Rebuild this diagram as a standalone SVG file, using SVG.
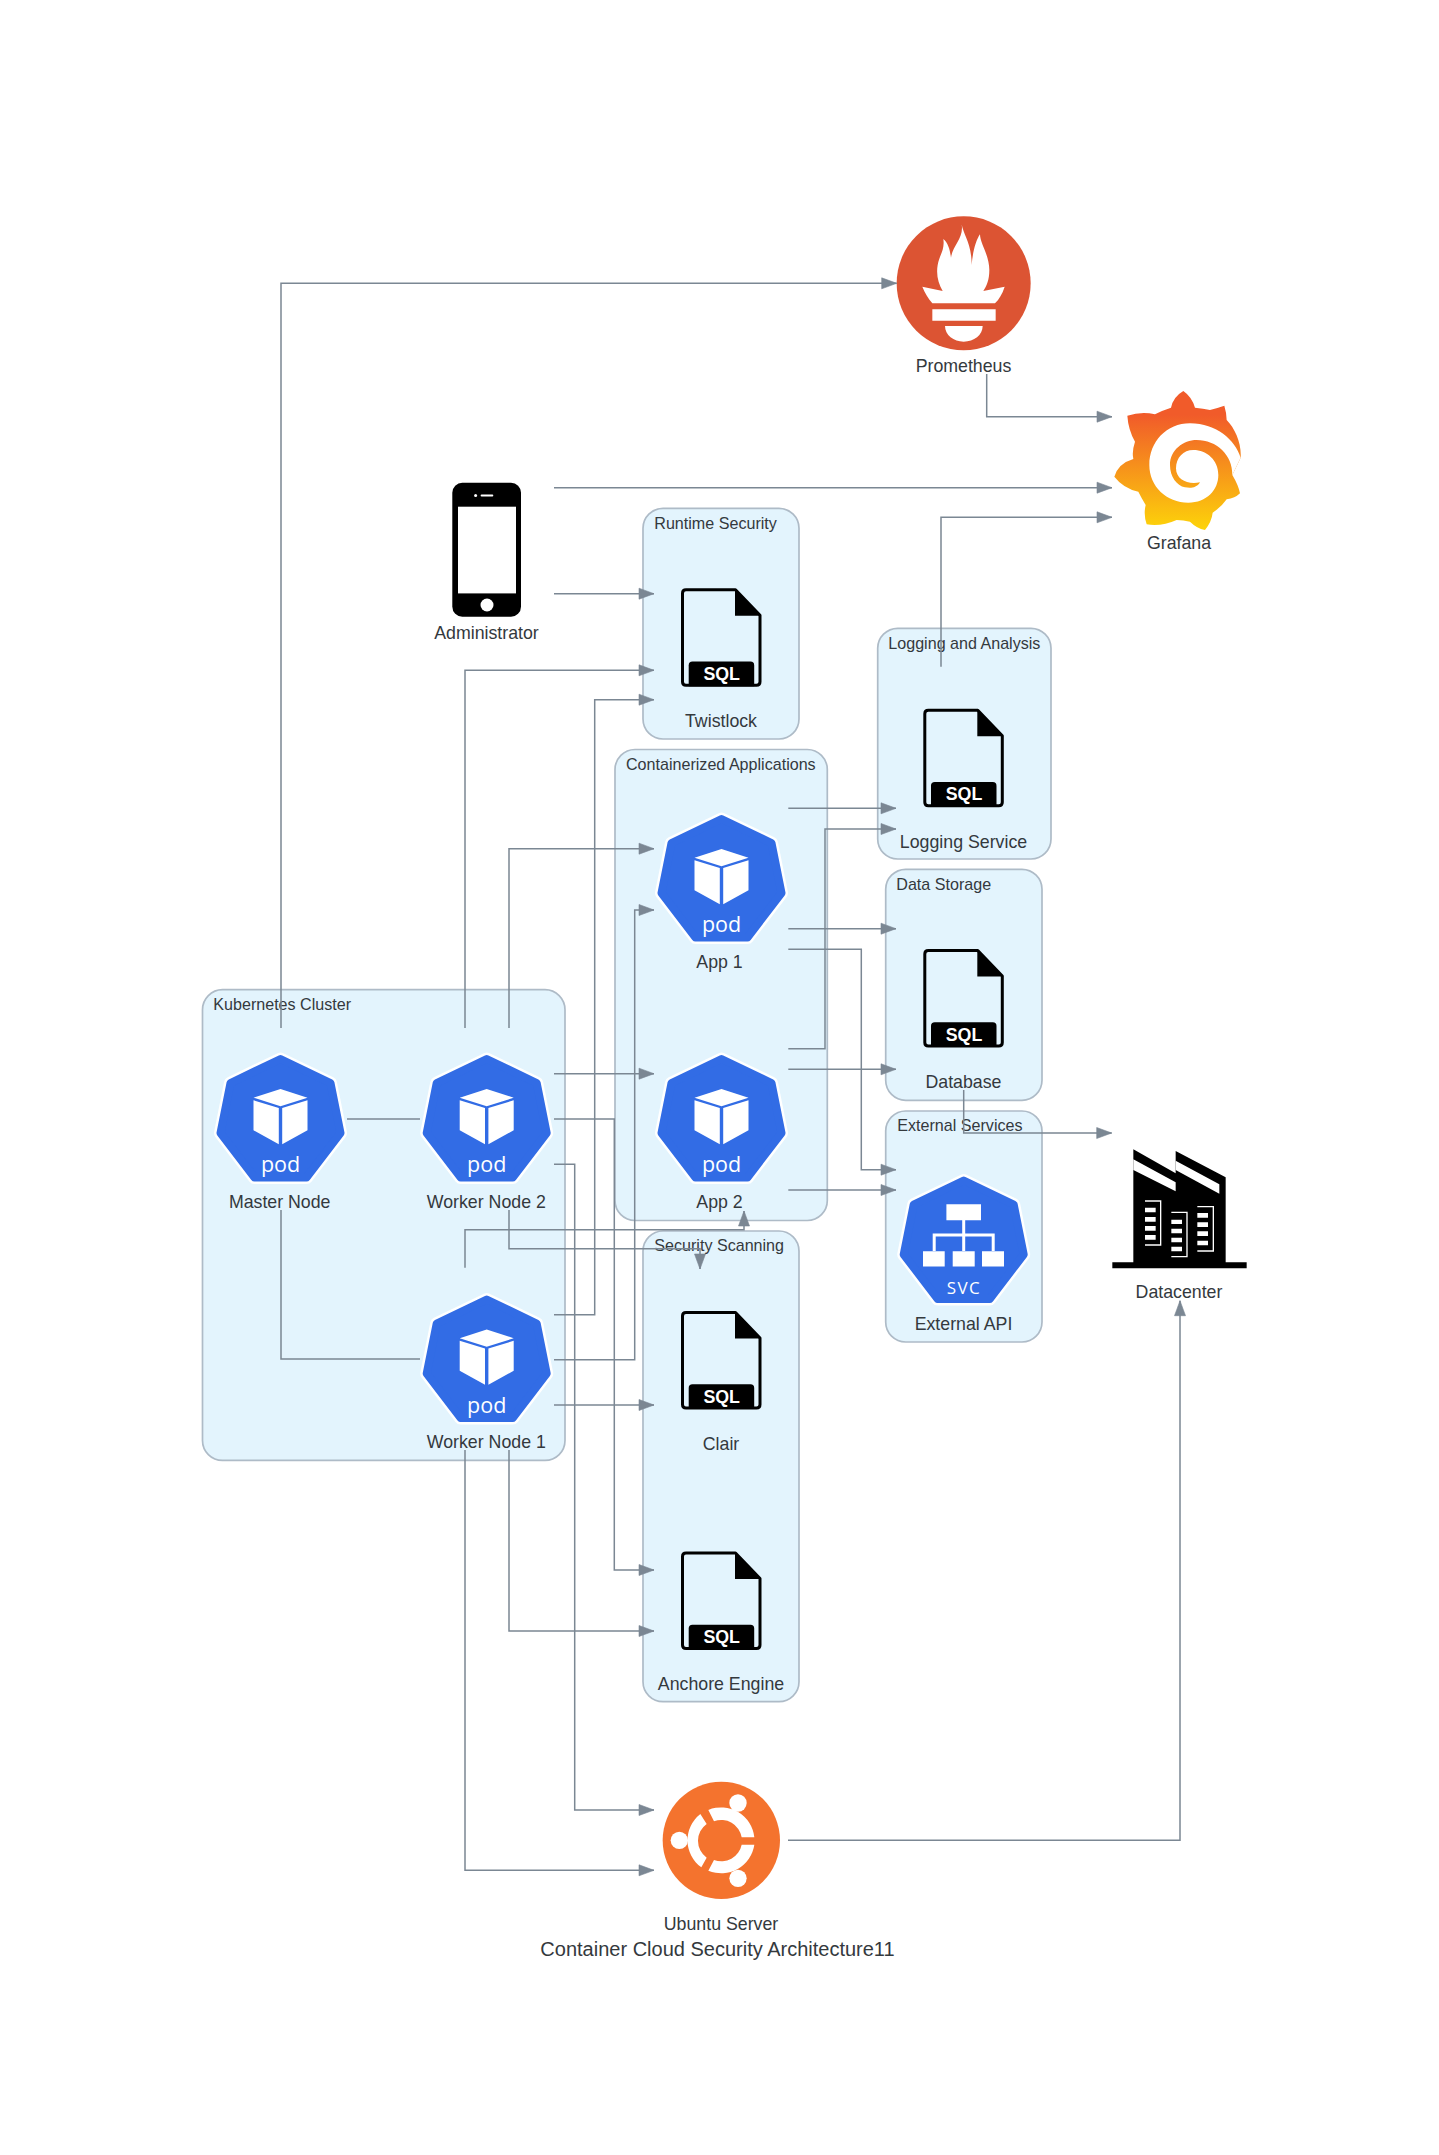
<svg xmlns="http://www.w3.org/2000/svg" width="1439" height="2155" viewBox="0 0 1439 2155">
<style>
text{font-family:"Liberation Sans",Arial,sans-serif;fill:#34393d}
.lb{font-size:17.75px;text-anchor:middle}
.cl{font-size:16.1px}
.title{font-size:20px;text-anchor:middle}
.panel{fill:#e3f4fd;stroke:#aebbc7;stroke-width:1.7}
.edge{fill:none;stroke:#7b8793;stroke-width:1.5}
.arr{marker-end:url(#ah)}
text.pt{font-family:"Open Sans",sans-serif;fill:#fff;font-size:21.5px;text-anchor:middle}
text.svc{font-family:"Open Sans",sans-serif;fill:#fff;font-size:17px;letter-spacing:1.5px;text-anchor:middle}
text.sq{font-weight:bold;fill:#fff;font-size:17.8px;text-anchor:middle}
</style>
<defs>
<marker id="ah" markerUnits="userSpaceOnUse" markerWidth="17" markerHeight="13" refX="16" refY="6.5" orient="auto"><path d="M1,1L16,6.5L1,12Z" fill="#7b8793" stroke="#7b8793" stroke-width=".6"/></marker>
<linearGradient id="gf" gradientUnits="userSpaceOnUse" x1="0" y1="90" x2="0" y2="430"><stop offset="0" stop-color="#f15b2a"/><stop offset="1" stop-color="#fdd20a"/></linearGradient>
<g id="hept">
<polygon points="0,7 50,31 60,81 26,125.5 -26,125.5 -60,81 -50,31" fill="#fff" stroke="#fff" stroke-width="13" stroke-linejoin="round"/>
<polygon points="0,7 50,31 60,81 26,125.5 -26,125.5 -60,81 -50,31" fill="#326ce5" stroke="#326ce5" stroke-width="8" stroke-linejoin="round"/>
</g>
<g id="pod">
<use href="#hept"/>
<path fill="#fff" d="M0,37L27,45.7L0,54.3L-27,45.7ZM-27,48.3L-1.7,56V92.3L-27,78.3ZM1.7,56L27,48.3V78.3L1.7,92.3Z"/>
</g>
<g id="sql">
<path fill="none" stroke="#000" stroke-width="3" stroke-linejoin="round" d="M5,1.5H54.5L79,27V93.5Q79,97 75.5,97H5Q1.5,97 1.5,93.5V5Q1.5,1.5 5,1.5Z"/>
<path d="M54,1L80,27.5H54Z" fill="#000"/>
<path d="M7.7,98V77Q7.7,73.3 11.5,73.3H69.5Q73.2,73.3 73.2,77V98Z" fill="#000"/>
</g>
</defs>

<g id="cluster-kubernetes"><rect class="panel" x="202.5" y="989.7" width="362.5" height="470.7" rx="20"/><text class="cl" x="213.3" y="1010">Kubernetes Cluster</text></g>
<g id="cluster-runtime"><rect class="panel" x="643" y="508.3" width="156" height="230.7" rx="20"/><text class="cl" x="654.3" y="529.3">Runtime Security</text></g>
<g id="cluster-apps"><rect class="panel" x="615" y="749.5" width="212.3" height="471" rx="20"/><text class="cl" x="626" y="770">Containerized Applications</text></g>
<g id="cluster-scanning"><rect class="panel" x="643" y="1231" width="156" height="470.7" rx="20"/><text class="cl" x="654.3" y="1251">Security Scanning</text></g>
<g id="cluster-logging"><rect class="panel" x="877.7" y="628.3" width="173.3" height="230.7" rx="20"/><text class="cl" x="888.3" y="649">Logging and Analysis</text></g>
<g id="cluster-storage"><rect class="panel" x="885.7" y="869.3" width="156.3" height="231" rx="20"/><text class="cl" x="896.3" y="890">Data Storage</text></g>
<g id="cluster-external"><rect class="panel" x="885.7" y="1111" width="156.3" height="231" rx="20"/><text class="cl" x="897.3" y="1130.7">External Services</text></g>

<g id="prometheus">
<g transform="translate(900 215) scale(.33333)">
<circle cx="191" cy="205" r="201" fill="#dc5433"/>
<path fill="#fff" d="M185,28C190,60 215,85 215,150C218,110 228,75 240,58C240,85 268,120 268,165C268,195 260,212 250,228L314,215C307,237 297,253 285,265H97C85,250 75,235 67,215L128,228C115,205 108,180 113,150C118,120 135,105 130,72C145,85 150,105 153,128C158,90 192,70 185,28ZM97,283H287V317H97ZM135,333H248C248,360 222,380 191,380C161,380 135,360 135,333Z"/>
</g>
<text class="lb" x="963.5" y="372">Prometheus</text>
</g>

<g id="grafana">
<g transform="translate(1110 385) scale(.33333)">
<path fill="url(#gf)" d="M220,18Q245,35 255,68Q280,70 300,75Q320,70 343,62Q350,85 350,105C375,130 395,175 392,218L367,270Q385,300 390,325Q375,340 350,343Q335,365 308,383Q305,410 285,435Q260,430 240,410Q220,405 200,405Q155,425 110,418Q100,390 107,360Q95,340 85,320Q40,310 13,275Q25,235 70,222Q65,200 75,170Q55,135 52,92Q95,78 135,88Q160,75 183,68Q190,35 220,18Z"/>
<path fill="#fff" d="M392,218C375,165 320,115 240,115C170,115 118,170 118,240C118,305 170,353 235,353C290,353 325,315 325,270C325,225 290,195 250,195C220,195 198,218 198,250C198,285 235,300 270,292C260,310 240,310 225,307C200,302 180,275 180,240C180,195 220,165 260,165C320,165 368,210 367,270Z"/>
</g>
<text class="lb" x="1179" y="549">Grafana</text>
</g>

<g id="administrator">
<rect x="452.3" y="482.7" width="68.7" height="134" rx="10" fill="#000"/>
<rect x="458" y="506.7" width="58" height="86.7" fill="#fff"/>
<circle cx="487" cy="605" r="6.5" fill="#fff"/>
<rect x="480.6" y="494.4" width="12.7" height="2" rx="1" fill="#fff"/>
<circle cx="475.6" cy="495.4" r="1.5" fill="#fff"/>
<text class="lb" x="486.5" y="639">Administrator</text>
</g>

<g id="twistlock"><use href="#sql" x="681" y="588.3"/><text class="sq" x="721.7" y="680">SQL</text><text class="lb" x="721" y="727">Twistlock</text></g>
<g id="clair"><use href="#sql" x="681" y="1311"/><text class="sq" x="721.7" y="1402.7">SQL</text><text class="lb" x="721" y="1450">Clair</text></g>
<g id="anchore"><use href="#sql" x="681" y="1551.5"/><text class="sq" x="721.7" y="1643.2">SQL</text><text class="lb" x="721" y="1690">Anchore Engine</text></g>
<g id="logging"><use href="#sql" x="923.3" y="708.7"/><text class="sq" x="964" y="800.4">SQL</text><text class="lb" x="963.5" y="847.7">Logging Service</text></g>
<g id="database"><use href="#sql" x="923.3" y="949"/><text class="sq" x="964" y="1040.7">SQL</text><text class="lb" x="963.5" y="1088">Database</text></g>

<g id="master"><use href="#pod" x="280.5" y="1052"/><text class="pt" x="280.5" y="1172">pod</text><text class="lb" x="279.7" y="1208">Master Node</text></g>
<g id="worker2"><use href="#pod" x="486.7" y="1052"/><text class="pt" x="486.7" y="1172">pod</text><text class="lb" x="486.3" y="1208">Worker Node 2</text></g>
<g id="worker1"><use href="#pod" x="486.7" y="1292.5"/><text class="pt" x="486.7" y="1412.5">pod</text><text class="lb" x="486.3" y="1448">Worker Node 1</text></g>
<g id="app1"><use href="#pod" x="721.5" y="812"/><text class="pt" x="721.5" y="932">pod</text><text class="lb" x="719.5" y="968">App 1</text></g>
<g id="app2"><use href="#pod" x="721.5" y="1052"/><text class="pt" x="721.5" y="1172">pod</text><text class="lb" x="719.5" y="1208">App 2</text></g>

<g id="external-api">
<use href="#hept" x="963.7" y="1173.5"/>
<path fill="#fff" d="M946.4,1204.2H981V1220.2H946.4ZM962.2,1220H965.2V1251H962.2ZM932.7,1233.5H994.7V1236.5H932.7ZM932.7,1235H935.7V1251H932.7ZM991.7,1235H994.7V1251H991.7ZM923,1251.2H944.7V1266.5H923ZM952.7,1251.2H974.7V1266.5H952.7ZM982,1251.2H1004V1266.5H982Z"/>
<text class="svc" x="964" y="1294">SVC</text>
<text class="lb" x="963.5" y="1330">External API</text>
</g>

<g id="datacenter">
<g transform="translate(860 1090) scale(.33333)">
<path fill="#000" d="M757,517H1160V535H757ZM820,178L947,250V183L1097,262V517H820Z"/>
<path fill="#fff" d="M820,208L947,277V304L820,240ZM947,212L1078,283V311L947,240Z"/>
<g fill="#fff">
<path d="M855,353h32v14h-32zM855,381h32v14h-32zM855,408h32v14h-32zM855,435h32v14h-32z"/>
<path d="M934,389h32v13h-32zM934,416h32v14h-32zM934,443h32v14h-32zM934,470h32v14h-32z"/>
<path d="M1012,369h32v14h-32zM1012,397h32v14h-32zM1012,424h32v14h-32zM1012,452h32v14h-32z"/>
</g>
<path fill="none" stroke="#fff" stroke-width="4" d="M855,333H902V465H855M934,367H981V500H934M1012,350H1060V483H1012"/>
</g>
<text class="lb" x="1179" y="1298">Datacenter</text>
</g>

<g id="ubuntu">
<g transform="translate(600 1760) scale(.33333)">
<circle cx="364" cy="241" r="176" fill="#f4732e"/>
<g fill="#fff">
<circle cx="414" cy="129" r="26"/><circle cx="238" cy="241" r="26"/><circle cx="414" cy="355" r="26"/>
<path d="M325,150A100,100 0 0 1 463,232H425A62,62 0 0 0 342,184Z"/>
<path d="M463,254A100,100 0 0 1 325,332L342,300A62,62 0 0 0 425,254Z"/>
<path d="M301,162L320,192A62,62 0 0 0 320,293L304,322A100,100 0 0 1 301,162Z"/>
</g>
</g>
<text class="lb" x="721" y="1930">Ubuntu Server</text>
</g>

<text id="title" class="title" x="717.5" y="1956">Container Cloud Security Architecture11</text>

<g id="connectors">
<path class="edge arr" d="M281,1028V283.3H896.7"/>
<path class="edge arr" d="M986.7,374V416.7H1112"/>
<path class="edge arr" d="M554,487.7H1112"/>
<path class="edge arr" d="M941,666.7V517.3H1112"/>
<path class="edge arr" d="M554,593.7H654"/>
<path class="edge arr" d="M465,1028V670.3H654"/>
<path class="edge arr" d="M554,1314.7H594.7V699.7H654"/>
<path class="edge arr" d="M509,1028V848.7H654"/>
<path class="edge" d="M347,1119H420"/>
<path class="edge" d="M281,1210V1359H420"/>
<path class="edge arr" d="M554,1073.7H654"/>
<path class="edge arr" d="M554,1119H614.3V1570H654"/>
<path class="edge arr" d="M554,1164.3H574.7V1810H654"/>
<path class="edge arr" d="M465,1450V1870.3H654"/>
<path class="edge arr" d="M509,1450V1631H654"/>
<path class="edge arr" d="M554,1405H654"/>
<path class="edge arr" d="M554,1359.7H634.7V910H654"/>
<path class="edge arr" d="M465,1267.7V1229.7H744V1211"/>
<path class="edge arr" d="M509,1210V1248.7H700V1269"/>
<path class="edge arr" d="M788.3,808.3H896"/>
<path class="edge arr" d="M788.3,928.7H896"/>
<path class="edge arr" d="M788.3,949.3H861.3V1169.7H896"/>
<path class="edge arr" d="M788.3,1048.7H825V829H896"/>
<path class="edge arr" d="M788.3,1069.3H896"/>
<path class="edge arr" d="M788.3,1190H896"/>
<path class="edge arr" d="M963.7,1090V1133H1111.7"/>
<path class="edge arr" d="M788,1840.3H1180V1300.7"/>
</g>
</svg>
